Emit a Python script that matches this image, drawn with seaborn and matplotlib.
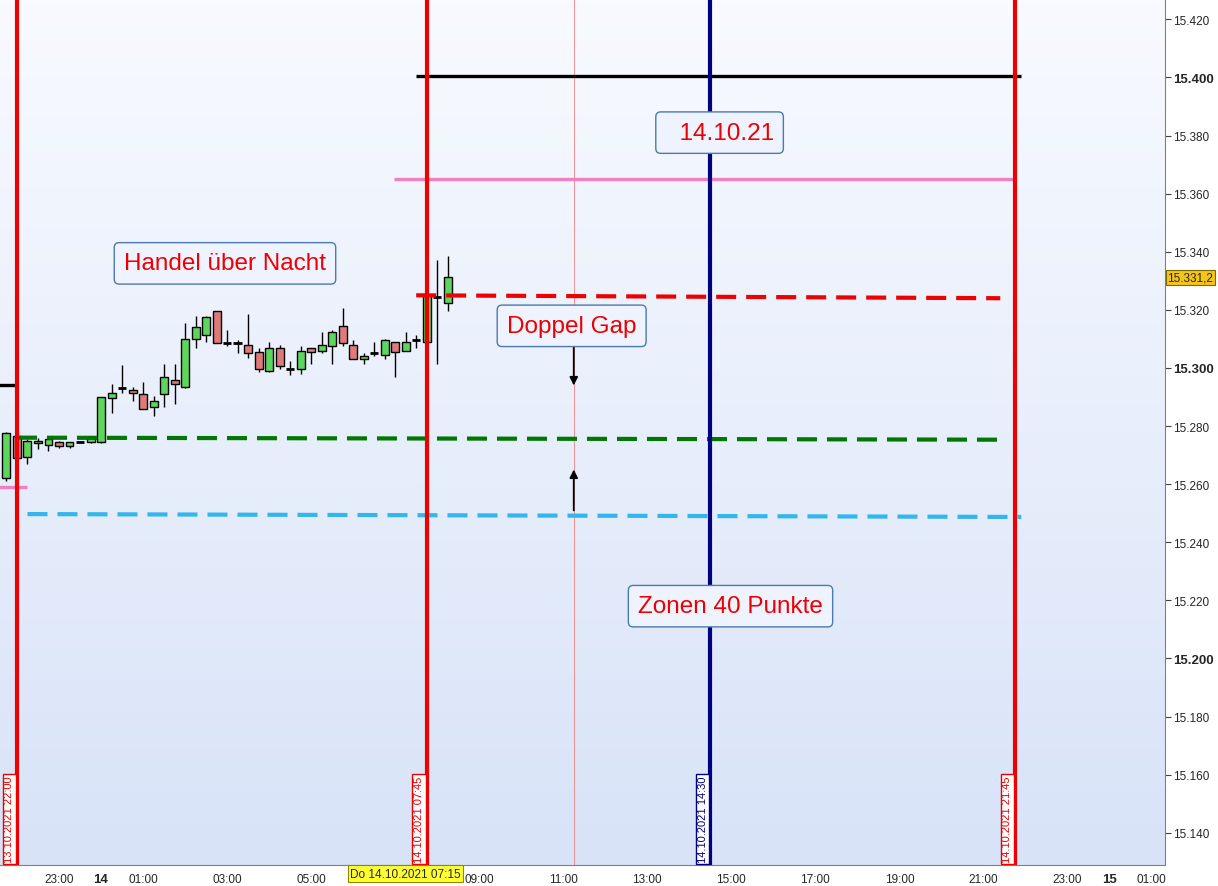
import numpy as np
import pandas as pd
import matplotlib
matplotlib.use("Agg")
import matplotlib.pyplot as plt
import seaborn as sns
from matplotlib.colors import LinearSegmentedColormap
from matplotlib.transforms import blended_transform_factory

# 15-minute candles, 13.10.2021 21:45 .. 14.10.2021 08:15
times = pd.date_range("2021-10-13 21:45", periods=43, freq="15min")
opens = [15262, 15276.5, 15269.5, 15274, 15273.5, 15274.5, 15273, 15274.5, 15274.5, 15274.5,
         15289.5, 15292.5, 15292.5, 15291, 15286.5, 15291, 15296, 15293.5, 15310, 15311.5,
         15319.5, 15308.5, 15308.5, 15308, 15305.5, 15299, 15307, 15299.5, 15299.5, 15307,
         15306, 15307.5, 15314.5, 15308, 15303, 15305, 15304.5, 15309, 15306, 15309.5,
         15309, 15324.5, 15322.5]
highs = [15278, 15277.5, 15275.5, 15276, 15276.5, 15275, 15274.5, 15275, 15276.5, 15290,
         15294.5, 15301, 15293.5, 15295, 15290.5, 15301.5, 15301.5, 15315.5, 15318, 15318,
         15319.5, 15313, 15309.5, 15318.5, 15307, 15309, 15308, 15302.5, 15307.5, 15307,
         15312.5, 15313, 15320.5, 15309.5, 15305, 15309, 15310, 15309, 15312.5, 15311.5,
         15325, 15337, 15338.5]
lows = [15261, 15268, 15267, 15272, 15271.5, 15272.5, 15272.5, 15274, 15274, 15274,
        15284.5, 15291.5, 15288.5, 15286, 15283.5, 15286.5, 15287.5, 15293, 15307, 15309,
        15308.5, 15307.5, 15305, 15303.5, 15298.5, 15298.5, 15299.5, 15297.5, 15298, 15301.5,
        15305, 15301.5, 15307.5, 15303, 15301.5, 15304, 15303, 15297, 15306, 15307,
        15309, 15301.5, 15319.5]
closes = [15277.5, 15269, 15275, 15275, 15275.5, 15273, 15274.5, 15274.5, 15276, 15290,
          15291.5, 15293, 15291.5, 15286, 15288.5, 15297, 15294.5, 15310, 15314, 15317.5,
          15308.5, 15308.5, 15308.5, 15305, 15299.5, 15307, 15300.5, 15299.5, 15306, 15305.5,
          15308, 15312.5, 15308.5, 15303, 15304, 15305, 15309.5, 15305.5, 15309, 15309.5,
          15325, 15324.5, 15331.2]
last_price = 15331.2

# vertical time markers (hours from 14.10.2021 00:00)
vline_hours = [-2.0, 7.75, 14.5, 21.75]
vline_labels = ["13.10.2021 22:00", "14.10.2021 07:45", "14.10.2021 14:30", "14.10.2021 21:45"]
vline_colors = ["#ee0000", "#ee0000", "#000080", "#ee0000"]

# horizontal levels: (x0, x1, y0, y1)
level_black_left = (-2.45, -2.0, 15294, 15294)
level_pink_left = (-2.45, -1.75, 15259, 15259)
level_black = (7.5, 21.9, 15400.5, 15400.5)
level_pink = (6.98, 21.7, 15365, 15365)
level_red = (7.5, 21.4, 15325, 15324)
level_green = (-2.0, 21.45, 15276, 15275.3)
level_blue = (-1.75, 21.9, 15249.7, 15248.7)

notes = ["Handel über Nacht", "  14.10.21", "Doppel Gap", "Zonen 40 Punkte"]
note_x = [2.95, 14.72, 11.2, 14.98]
note_y = [15336, 15381, 15314.5, 15218]

xtick_pos = [-1, 0, 1, 3, 5, 7, 9, 11, 13, 15, 17, 19, 21, 23, 24, 25]
xtick_lab = ["23:00", "14", "01:00", "03:00", "05:00", "", "09:00", "11:00", "13:00",
             "15:00", "17:00", "19:00", "21:00", "23:00", "15", "01:00"]
ytick_pos = list(range(15140, 15421, 20))

sns.set_style("white")
plt.rcParams["font.family"] = ["Liberation Sans", "DejaVu Sans"]

fig = plt.figure(figsize=(12.18, 8.87), dpi=100)
ax = fig.add_axes([0, 21 / 887, 1165 / 1218, 866 / 887])
xlim = (-2.404, 25.32)
ylim = (15128.9, 15427.0)

# background gradient
cmap = LinearSegmentedColormap.from_list("bg", ["#f8faff", "#d8e3f8"])
ax.imshow(np.linspace(0, 1, 256).reshape(-1, 1), extent=[xlim[0], xlim[1], ylim[0], ylim[1]],
          cmap=cmap, aspect="auto", origin="upper", zorder=0)

df = pd.DataFrame({"time": times, "open": opens, "high": highs, "low": lows, "close": closes})
df["h"] = (df["time"] - pd.Timestamp("2021-10-14")) / pd.Timedelta(hours=1)
up = df["close"] >= df["open"]

ax.vlines(df["h"], df["low"], df["high"], color="black", lw=1, zorder=3)
body = (df["close"] - df["open"]).abs()
doji = body < 0.6
ax.bar(df["h"][~doji], body[~doji], bottom=df[["open", "close"]].min(axis=1)[~doji], width=0.19,
       color=np.where(up[~doji], "#5cd65c", "#e07a7a"), edgecolor="black", lw=1, zorder=4)
ax.hlines(df["close"][doji], df["h"][doji] - 0.1, df["h"][doji] + 0.1, color="black", lw=2, zorder=4)

# horizontal levels
for lv, c in [(level_black_left, "black"), (level_pink_left, "#f080c0"),
              (level_black, "black"), (level_pink, "#f080c0")]:
    ax.plot(lv[:2], lv[2:], color=c, lw=2.4, zorder=5, solid_capstyle="butt")
for lv, c in [(level_red, "#ee0000"), (level_green, "#007700"), (level_blue, "#33b5ee")]:
    ax.plot(lv[:2], lv[2:], color=c, lw=3, dashes=(4.8, 2.4), zorder=5)

# vertical lines + labels
tr = blended_transform_factory(ax.transData, ax.transAxes)
for h, lab, c in zip(vline_hours, vline_labels, vline_colors):
    ax.axvline(h, color=c, lw=3, zorder=6)
    ax.text(h - 0.06, 0.003, lab, rotation=90, ha="right", va="bottom", fontsize=8, color=c,
            transform=tr, zorder=7,
            bbox=dict(boxstyle="square,pad=0.15", fc="white", ec=c, lw=1))
ax.axvline(11.25, color="#f08080", lw=0.6, zorder=2)

# arrows
ax.annotate("", xy=(11.25, 15293), xytext=(11.25, 15322),
            arrowprops=dict(arrowstyle="-|>", color="black", lw=1.3, mutation_scale=12), zorder=8)
ax.annotate("", xy=(11.25, 15266), xytext=(11.25, 15250),
            arrowprops=dict(arrowstyle="-|>", color="black", lw=1.3, mutation_scale=12), zorder=8)

# note boxes
for t, x, y in zip(notes, note_x, note_y):
    ax.text(x, y, t, ha="center", va="center", fontsize=17.5, color="#ee0000", zorder=9,
            bbox=dict(boxstyle="round,pad=0.4,rounding_size=0.2", fc="#eef3ff", ec="#4a7ab0", lw=1))

ax.set_xlim(xlim)
ax.set_ylim(ylim)

# axes
ax.yaxis.tick_right()
ax.set_yticks(ytick_pos)
ax.set_yticklabels([f"{v / 1000:.3f}" for v in ytick_pos], fontsize=8.5)
for lab, v in zip(ax.get_yticklabels(), ytick_pos):
    if v % 100 == 0:
        lab.set_fontweight("bold")
        lab.set_fontsize(9.5)
ax.set_xticks(xtick_pos)
ax.set_xticklabels(xtick_lab, fontsize=8.5)
for lab, t in zip(ax.get_xticklabels(), xtick_lab):
    if t in ("14", "15"):
        lab.set_fontweight("bold")
        lab.set_fontsize(9.5)
ax.tick_params(axis="both", direction="out", length=4, width=0.8, color="#404040", pad=2)
for s in ax.spines.values():
    s.set_color("#808080")
    s.set_linewidth(0.8)
ax.spines["top"].set_visible(False)
ax.spines["left"].set_visible(False)

# cursor labels
ax.text(7.25, -0.003, "Do 14.10.2021 07:15", transform=tr, ha="center", va="top", fontsize=8.5,
        bbox=dict(boxstyle="square,pad=0.2", fc="#ffff33", ec="#8a8a00", lw=0.8), zorder=10,
        clip_on=False)
ax.text(1.002, last_price, "15.331,2", transform=blended_transform_factory(ax.transAxes, ax.transData),
        ha="left", va="center", fontsize=8.5,
        bbox=dict(boxstyle="square,pad=0.15", fc="#f5c518", ec="#7a6a00", lw=0.8), zorder=10,
        clip_on=False)

fig.savefig("out.png", dpi=100, facecolor="white")
